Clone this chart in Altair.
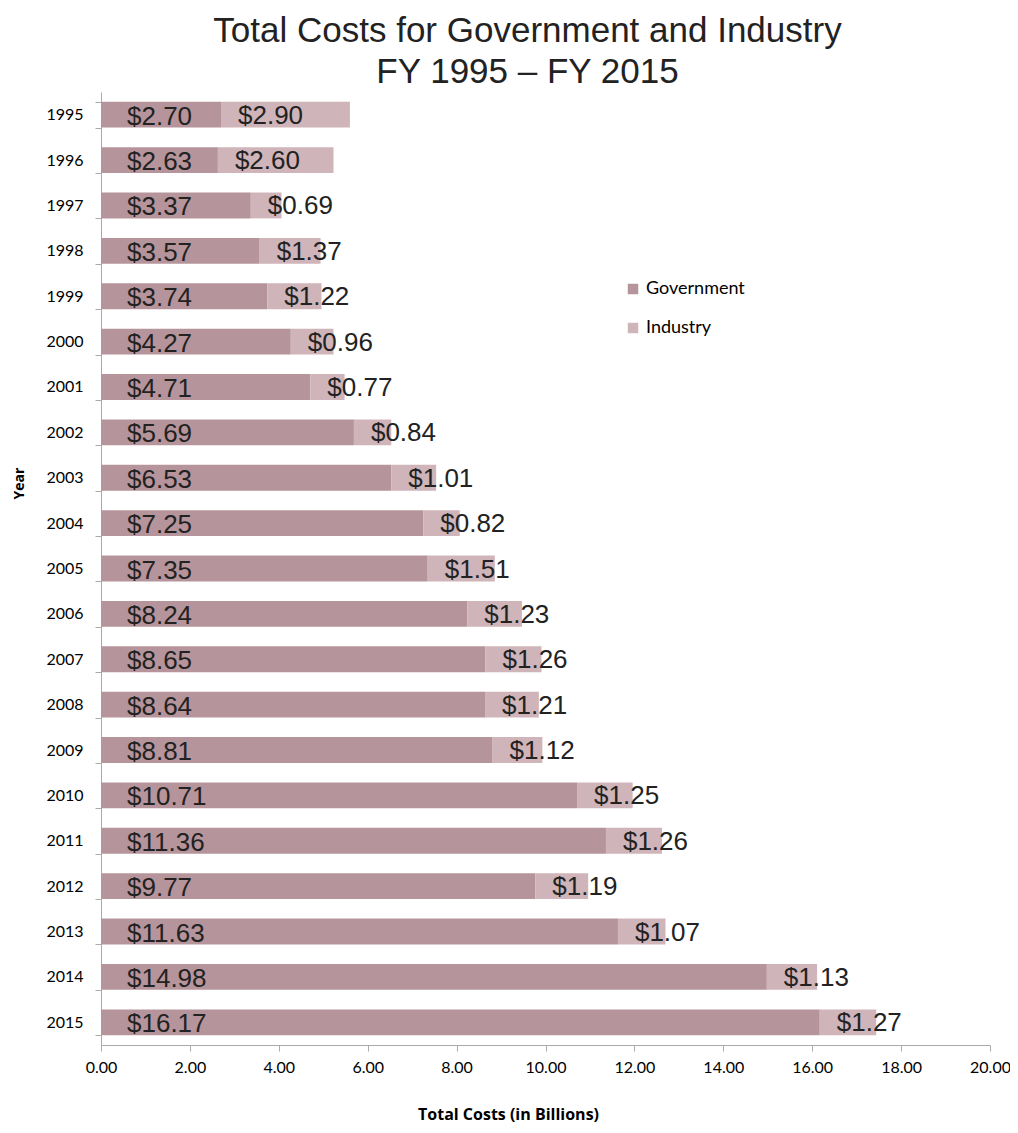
import altair as alt
import pandas as pd

years = [str(y) for y in range(1995, 2016)]
government = [2.70, 2.63, 3.37, 3.57, 3.74, 4.27, 4.71, 5.69, 6.53, 7.25, 7.35,
              8.24, 8.65, 8.64, 8.81, 10.71, 11.36, 9.77, 11.63, 14.98, 16.17]
industry = [2.90, 2.60, 0.69, 1.37, 1.22, 0.96, 0.77, 0.84, 1.01, 0.82, 1.51,
            1.23, 1.26, 1.21, 1.12, 1.25, 1.26, 1.19, 1.07, 1.13, 1.27]
series = ["Government", "Industry"]
colors = ["#b6949b", "#cfb4b9"]
x_ticks = [0, 2, 4, 6, 8, 10, 12, 14, 16, 18, 20]

rows = []
for y, g, i in zip(years, government, industry):
    rows.append(dict(year=y, series="Government", value=g, order=0, gov=g, label=f"${g:.2f}"))
    rows.append(dict(year=y, series="Industry", value=i, order=1, gov=g, label=f"${i:.2f}"))
df = pd.DataFrame(rows)

y_enc = alt.Y(
    "year:N", sort=years,
    scale=alt.Scale(paddingInner=0.43, paddingOuter=0.215),
    axis=alt.Axis(title="Year", titleFont="Open Sans", titleFontWeight="bold",
                  titleFontSize=14, titleColor="#000", titlePadding=19, titleY=391,
                  labelFont="Lato", labelFontSize=16, labelColor="#000",
                  labelPadding=12, tickBand="extent", tickSize=6,
                  tickColor="#aaaaaa", domainColor="#aaaaaa"),
)

base = alt.Chart(df)

bars = base.mark_bar().encode(
    y=y_enc,
    x=alt.X("value:Q", stack="zero",
            scale=alt.Scale(domain=[0, 20], nice=False),
            axis=alt.Axis(title="Total Costs (in Billions)", values=x_ticks, format=".2f",
                          grid=False, labelFlush=False, titleFont="Open Sans",
                          titleFontWeight="bold", titleFontSize=16, titleColor="#000",
                          titlePadding=31, titleX=407, titleAlign="center",
                          labelFont="Lato", labelFontSize=16, labelColor="#000",
                          labelPadding=8, tickSize=6, tickColor="#aaaaaa",
                          domainColor="#aaaaaa")),
    color=alt.Color("series:N", scale=alt.Scale(domain=series, range=colors),
                    legend=alt.Legend(title=None, orient="none", legendX=523, legendY=188,
                                      symbolType="square", symbolSize=110,
                                      symbolStrokeWidth=0,
                                      labelFont="Lato", labelFontSize=18,
                                      labelColor="#000", rowPadding=21)),
    order=alt.Order("order:Q"),
)

gov_text = base.transform_filter(alt.datum.series == "Government").mark_text(
    align="left", baseline="middle", dx=26, dy=2, fontSize=26,
    font="Liberation Sans", color="#222"
).encode(y=alt.Y("year:N", sort=years), x=alt.datum(0), text="label:N")

ind_text = base.transform_filter(alt.datum.series == "Industry").mark_text(
    align="left", baseline="middle", dx=17, dy=1, fontSize=26,
    font="Liberation Sans", color="#222"
).encode(y=alt.Y("year:N", sort=years), x="gov:Q", text="label:N")

chart = alt.layer(bars, gov_text, ind_text).properties(
    width=889, height=953,
    title=alt.TitleParams(["Total Costs for Government and Industry", "FY 1995 \u2013 FY 2015"],
                          font="Liberation Sans", fontSize=35, fontWeight="normal",
                          color="#222", lineHeight=41, anchor="middle", dx=-18, offset=-6),
    autosize="none",
    padding={"left": 93, "top": 84, "right": 20, "bottom": 80},
).configure_view(stroke=None)

chart.save("out.html", embed_options={"renderer": "svg", "actions": False})
